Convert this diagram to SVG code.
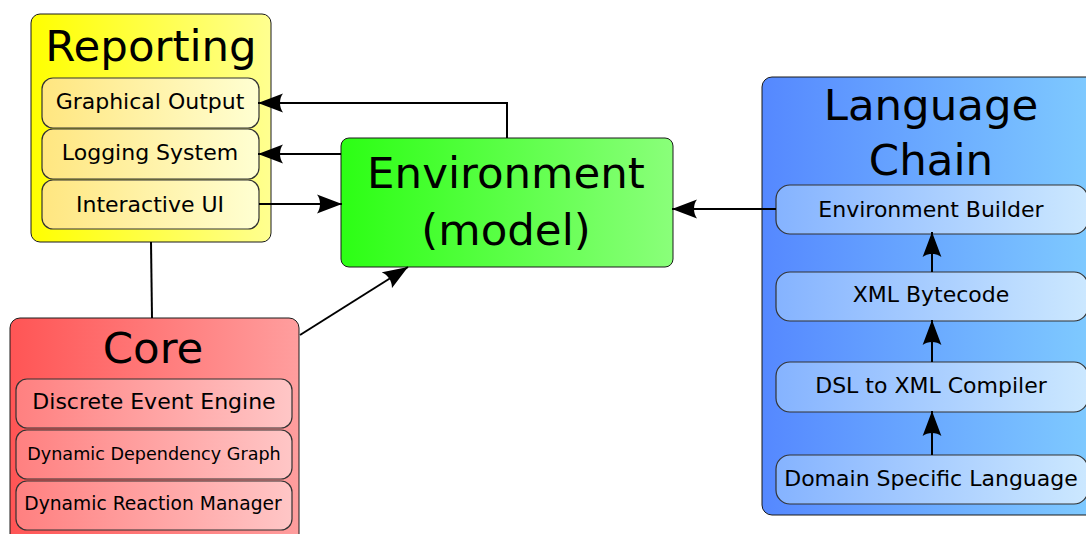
<svg xmlns="http://www.w3.org/2000/svg" width="1086" height="534" viewBox="0 0 1086 534">
  <defs>
    <linearGradient id="gYellow" x1="0" y1="0" x2="1" y2="0">
      <stop offset="0" stop-color="#ffff00"/>
      <stop offset="1" stop-color="#ffff90"/>
    </linearGradient>
    <linearGradient id="gYellowSub" x1="0" y1="0" x2="1" y2="0">
      <stop offset="0" stop-color="#ffe680"/>
      <stop offset="1" stop-color="#ffffd2"/>
    </linearGradient>
    <linearGradient id="gRed" x1="0" y1="0" x2="1" y2="0">
      <stop offset="0" stop-color="#ff5555"/>
      <stop offset="1" stop-color="#ff9e9e"/>
    </linearGradient>
    <linearGradient id="gRedSub" x1="0" y1="0" x2="1" y2="0">
      <stop offset="0" stop-color="#ff8080"/>
      <stop offset="1" stop-color="#ffc6c6"/>
    </linearGradient>
    <linearGradient id="gGreen" x1="0" y1="0" x2="1" y2="0">
      <stop offset="0" stop-color="#2cff14"/>
      <stop offset="1" stop-color="#8aff7a"/>
    </linearGradient>
    <linearGradient id="gBlue" x1="0" y1="0" x2="1" y2="0">
      <stop offset="0" stop-color="#5588ff"/>
      <stop offset="1" stop-color="#80ccff"/>
    </linearGradient>
    <linearGradient id="gBlueSub" x1="0" y1="0" x2="1" y2="0">
      <stop offset="0" stop-color="#85b3ff"/>
      <stop offset="1" stop-color="#cce8ff"/>
    </linearGradient>
    <!-- curved-back arrowhead, tip at the path end -->
    <marker id="arrow" viewBox="0 0 26 20" refX="25" refY="10" markerWidth="26" markerHeight="20" markerUnits="userSpaceOnUse" orient="auto">
      <path d="M25,10 L0,0.6 C4,5.5 4,14.5 0,19.4 Z" fill="#000"/>
    </marker>
  </defs>
  <style>
    .box { stroke: #1a1a1a; stroke-width: 1; }
    .sub { stroke: #333; stroke-width: 1.2; }
    text { font-family: "DejaVu Sans", "Liberation Sans", sans-serif; fill: #000; text-anchor: middle; }
    .title { font-size: 43.5px; }
    .item { font-size: 22px; }
    .link { fill: none; stroke: #000; stroke-width: 2; }
    .arrowed { marker-end: url(#arrow); }
  </style>

  <!-- Reporting -->
  <g id="reporting">
    <rect class="box" x="31" y="14" width="240" height="228" rx="9" fill="url(#gYellow)"/>
    <text class="title" x="151" y="61">Reporting</text>
    <g id="graphical-output">
      <rect class="sub" x="42" y="78" width="217" height="50" rx="11" fill="url(#gYellowSub)"/>
      <text class="item" x="150" y="109">Graphical Output</text>
    </g>
    <g id="logging-system">
      <rect class="sub" x="42" y="129" width="217" height="50" rx="11" fill="url(#gYellowSub)"/>
      <text class="item" x="150" y="160">Logging System</text>
    </g>
    <g id="interactive-ui">
      <rect class="sub" x="42" y="180" width="217" height="49" rx="11" fill="url(#gYellowSub)"/>
      <text class="item" x="150" y="212">Interactive UI</text>
    </g>
  </g>

  <!-- Core -->
  <g id="core">
    <rect class="box" x="10" y="318" width="289" height="230" rx="10" fill="url(#gRed)"/>
    <text class="title" x="153" y="363">Core</text>
    <g id="discrete-event-engine">
      <rect class="sub" x="16" y="379" width="276" height="49" rx="11" fill="url(#gRedSub)"/>
      <text class="item" x="154" y="409">Discrete Event Engine</text>
    </g>
    <g id="dynamic-dependency-graph">
      <rect class="sub" x="16" y="430" width="276" height="49" rx="11" fill="url(#gRedSub)"/>
      <text class="item" x="154" y="460" style="font-size:17.6px">Dynamic Dependency Graph</text>
    </g>
    <g id="dynamic-reaction-manager">
      <rect class="sub" x="16" y="481" width="276" height="49" rx="11" fill="url(#gRedSub)"/>
      <text class="item" x="153" y="510" style="font-size:18.7px">Dynamic Reaction Manager</text>
    </g>
  </g>

  <!-- Environment -->
  <g id="environment">
    <rect class="box" x="341" y="138" width="332" height="129" rx="8" fill="url(#gGreen)"/>
    <text class="title" x="506" y="188">Environment</text>
    <text class="title" x="506" y="245">(model)</text>
  </g>

  <!-- Language Chain -->
  <g id="language-chain">
    <rect class="box" x="762" y="77" width="340" height="438" rx="10" fill="url(#gBlue)"/>
    <text class="title" x="931" y="120">Language</text>
    <text class="title" x="931" y="175">Chain</text>
    <g id="environment-builder">
      <rect class="sub" x="776" y="185" width="312" height="49" rx="14" fill="url(#gBlueSub)"/>
      <text class="item" x="931" y="217">Environment Builder</text>
    </g>
    <g id="xml-bytecode">
      <rect class="sub" x="776" y="272" width="312" height="49" rx="14" fill="url(#gBlueSub)"/>
      <text class="item" x="931" y="302">XML Bytecode</text>
    </g>
    <g id="dsl-compiler">
      <rect class="sub" x="776" y="362" width="312" height="50" rx="14" fill="url(#gBlueSub)"/>
      <text class="item" x="931" y="393">DSL to XML Compiler</text>
    </g>
    <g id="domain-specific-language">
      <rect class="sub" x="776" y="455" width="312" height="49" rx="14" fill="url(#gBlueSub)"/>
      <text class="item" x="931" y="486">Domain Specific Language</text>
    </g>
  </g>

  <!-- connectors, drawn on top of the boxes -->
  <g id="connectors">
    <path class="link" d="M151,242 L152,318"/>
    <path class="link arrowed" d="M507,138 L507,103 L258,103"/>
    <path class="link arrowed" d="M341,154 L258,154"/>
    <path class="link arrowed" d="M259,204 L342,204"/>
    <path class="link arrowed" d="M300,335 L408,267"/>
    <path class="link arrowed" d="M776,209 L672,209"/>
    <path class="link arrowed" d="M932,272 L932,232"/>
    <path class="link arrowed" d="M932,362 L932,320"/>
    <path class="link arrowed" d="M932,455 L932,411"/>
  </g>
</svg>
